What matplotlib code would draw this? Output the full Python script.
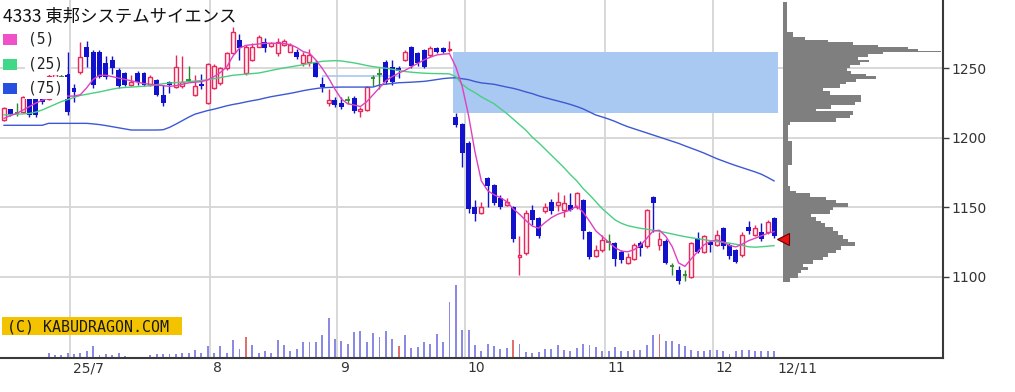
import matplotlib
matplotlib.use("Agg")
import matplotlib.pyplot as plt
import matplotlib.transforms as mtransforms
from matplotlib.patches import Rectangle
import numpy as np

# ---------------- data ----------------
title = "4333 東邦システムサイエンス"
ma_labels = ["(5)", "(25)", "(75)"]
watermark = "(C) KABUDRAGON.COM"

opens = [1212.8, 1220.5, 1218, 1218.8, 1228.5, 1229, 1228.5, 1228, 1236, 1244,
         1246, 1236, 1247.6, 1265.5, 1262, 1262, 1254, 1256, 1249, 1246.6,
         1238, 1246.6, 1246.6, 1238, 1241.6, 1230.8, 1240, 1236.8, 1237, 1241.5,
         1231, 1239, 1225, 1236, 1239.5, 1250, 1261, 1270, 1246.4, 1256,
         1265.5, 1269, 1266, 1260.8, 1266.8, 1262, 1262, 1253.6, 1254.7, 1253.6,
         1239, 1225, 1227, 1225, 1227, 1228.6, 1219, 1220, 1243, 1246,
         1254.5, 1251, 1250, 1256, 1265, 1261, 1263, 1259.6, 1264.6, 1264.6,
         1263, 1215, 1210, 1196, 1150, 1146, 1171, 1166, 1157, 1152,
         1150, 1114, 1117, 1148, 1142, 1147, 1154, 1152, 1148, 1152,
         1150, 1155, 1132, 1115, 1119, 1125, 1124, 1118, 1110, 1113,
         1124, 1122, 1157.6, 1123, 1126, 1107.5, 1105, 1101, 1100, 1128,
         1118, 1125, 1123, 1135, 1123, 1119, 1116, 1136, 1130, 1132,
         1132.5, 1142]
closes = [1221.3, 1217, 1218, 1229, 1216.4, 1216.4, 1226, 1244.5, 1246, 1244,
          1218.8, 1233, 1258.4, 1258.4, 1238, 1244, 1244, 1250, 1237, 1238,
          1240, 1240, 1238, 1244, 1230.8, 1225, 1238, 1251, 1240, 1241.5,
          1237, 1237, 1253, 1252, 1250, 1261, 1276.3, 1264.6, 1265.5, 1265.5,
          1272.7, 1264.4, 1268, 1269, 1270, 1266.7, 1258.4, 1259.6, 1259.6, 1244,
          1236.8, 1227, 1223.6, 1222, 1227, 1219, 1221, 1236.8, 1243, 1246,
          1240, 1240, 1248, 1261.7, 1252, 1254, 1251, 1264.6, 1261.5, 1261.5,
          1264, 1209, 1189, 1149, 1145, 1150, 1165, 1153, 1150, 1154,
          1127, 1116, 1146, 1141, 1129, 1150, 1147, 1153.5, 1153, 1148,
          1160, 1133, 1114, 1119, 1126.5, 1125, 1113, 1112, 1114, 1123,
          1121, 1148, 1153, 1127, 1110, 1107.5, 1097, 1101, 1124, 1118,
          1129, 1123, 1130, 1122, 1115, 1111, 1130, 1133, 1135, 1127.5,
          1139.6, 1129]
highs = [1222, 1221, 1225, 1230, 1230, 1230, 1229, 1246, 1250, 1252,
         1262, 1239, 1269, 1270, 1263, 1263, 1259, 1259, 1250, 1247,
         1245, 1248, 1247, 1245, 1242, 1238, 1241, 1259.6, 1259, 1252,
         1245, 1246, 1254, 1253, 1251, 1262, 1280, 1275, 1267, 1268,
         1274, 1272, 1269, 1272, 1271, 1268, 1264, 1262, 1264, 1256,
         1244, 1235, 1229, 1229, 1230, 1230, 1222, 1237, 1245, 1250,
         1256, 1256, 1252, 1263, 1266, 1262, 1264, 1266, 1265, 1265,
         1270, 1217.5, 1211, 1198, 1155, 1154, 1172, 1167, 1159, 1157,
         1151, 1129, 1148, 1152, 1143, 1153, 1156, 1161, 1159, 1160,
         1161, 1156, 1133, 1123, 1130, 1131, 1125, 1119, 1117, 1124,
         1126, 1149, 1158, 1132, 1127, 1110, 1108, 1105, 1125, 1132,
         1130, 1126, 1134, 1136, 1124, 1120, 1132, 1140, 1137, 1139,
         1141, 1143]
lows = [1212, 1216, 1216, 1218, 1215, 1215, 1224, 1227, 1234, 1238,
        1216.4, 1226, 1246, 1251, 1236, 1243, 1242, 1246, 1236, 1237,
        1237, 1238, 1237, 1237, 1230, 1223, 1232, 1236, 1236, 1240,
        1230, 1235, 1224, 1235, 1238, 1249, 1260, 1256, 1245, 1255,
        1265, 1262, 1265, 1259, 1266, 1262, 1257, 1252, 1252, 1244,
        1233, 1223, 1222, 1221, 1224, 1218, 1215, 1219, 1237, 1235,
        1239, 1238, 1243, 1255, 1250, 1252, 1250, 1258, 1261, 1261,
        1262, 1208, 1179, 1146, 1140, 1145, 1150, 1152, 1149, 1151,
        1125, 1101, 1116, 1137, 1128, 1146, 1145, 1147, 1143, 1147,
        1149, 1127, 1113, 1114, 1118, 1119, 1108, 1110, 1109, 1112,
        1115, 1121, 1132.5, 1119, 1109, 1101, 1095, 1097, 1099, 1117,
        1117, 1118, 1122, 1120, 1113, 1110, 1114, 1131, 1129, 1126,
        1131, 1128]
volume = [1.5, 1.5, 1.5, 1.5, 1.5, 1.5, 1.5, 5, 2.7, 2.7,
          5, 3.7, 5, 6.7, 11.7, 2.7, 3.7, 2.7, 5, 1.7,
          1, 1, 1, 2.7, 3.7, 3.7, 3.7, 3.7, 5, 5,
          8.3, 5, 11.7, 5, 11.7, 5, 17.7, 9.3, 21, 12.7,
          5, 6.7, 5, 17.7, 12.7, 6.7, 9.3, 16, 16, 16,
          22.7, 40, 19.3, 16.7, 14.3, 26, 27, 16, 25.3, 21,
          27, 19.3, 11.7, 22.7, 10, 11, 16, 14.3, 24.3, 16,
          56, 73.3, 28.3, 28.3, 12.7, 6.7, 14.3, 11.7, 9.3, 10,
          17.7, 14.3, 6, 5, 6, 9.3, 9.3, 12.7, 7.7, 6.7,
          10, 14.3, 13.3, 11, 6.7, 6.7, 11, 6.7, 6.7, 7.7,
          8.3, 12.7, 22.7, 24.3, 16.7, 16.7, 14.3, 11.7, 8.3, 6.7,
          6.7, 8.3, 7.7, 6.7, 4.3, 6.7, 8.3, 8.3, 6.7, 6.7,
          6.7, 6.7]
vol_marked = [38, 62, 80, 103]

ma5 = [1214, 1216, 1217.5, 1220, 1222.5, 1225, 1227, 1228.5, 1229.5, 1230,
       1230, 1230, 1231, 1236, 1242, 1245, 1245, 1244, 1243, 1242,
       1241, 1240, 1239, 1238.5, 1238, 1237.5, 1237, 1237.5, 1238.5, 1239.5,
       1240, 1240.4, 1241.6, 1244, 1247, 1251, 1259, 1264.5, 1266.5, 1267,
       1267.5, 1268, 1268, 1268, 1267.8, 1267, 1265, 1262, 1260.8, 1256,
       1250, 1243, 1235, 1228, 1224.5, 1223.6, 1222.5, 1226, 1231, 1236,
       1241, 1244, 1246.5, 1248.5, 1251, 1253.5, 1256, 1258, 1259.6, 1260.2,
       1260.5, 1251, 1237, 1216, 1190, 1169, 1162, 1159, 1157, 1154,
       1149, 1145, 1140.5, 1136.5, 1135, 1139, 1142.5, 1145, 1146.5, 1148,
       1151, 1146.5, 1140, 1133, 1129, 1125, 1121, 1118.5, 1118, 1119.5,
       1122.5, 1127.7, 1133, 1133.5, 1129, 1121.7, 1110, 1107.5, 1113, 1118,
       1123, 1125.5, 1126.5, 1125, 1122.5, 1121.5, 1123.5, 1126, 1127.7, 1129.5,
       1131.3, 1132.5]
ma25 = [1216.5, 1216.7, 1217, 1217.2, 1217.5, 1218.5, 1220, 1222, 1224, 1226,
        1227.5, 1229, 1230.5, 1231.3, 1232.2, 1233, 1234, 1235, 1235.8, 1236.2,
        1236.5, 1236.8, 1237.1, 1237.5, 1238.2, 1238.9, 1239.4, 1239.7, 1240, 1240.4,
        1240.8, 1241.2, 1241.8, 1242.5, 1243.3, 1244.2, 1245, 1245.4, 1245.8, 1246.2,
        1246.6, 1247.5, 1248.5, 1249.4, 1250.3, 1251, 1251.8, 1252.6, 1253.5, 1254.3,
        1255, 1255.3, 1255.5, 1255.3, 1254.6, 1253.9, 1253, 1252, 1251.2, 1250.6,
        1250.1, 1249.3, 1248.5, 1247.7, 1247.2, 1246.8, 1246.5, 1246.3, 1246.2, 1246.1,
        1246, 1244, 1238.5, 1235, 1232.5, 1229.5, 1227, 1224.5, 1221, 1217.5,
        1213.5, 1209.5, 1205.5, 1200.5, 1196.5, 1192, 1187.5, 1183, 1178.5, 1173.5,
        1169, 1163.5, 1159, 1154, 1149, 1145, 1141, 1138.5, 1136.8, 1135.8,
        1134.9, 1134.2, 1133.5, 1132.7, 1131.8, 1130.8, 1129.8, 1128.9, 1128.1, 1127.4,
        1126.7, 1126, 1125.4, 1124.8, 1124.2, 1123.4, 1122.6, 1121.6, 1121.3, 1121.6,
        1122, 1122.4]
ma75 = [1209, 1209, 1209, 1209, 1209, 1209, 1209, 1210.4, 1210.4, 1210.4,
        1210.4, 1210.4, 1210.4, 1210.4, 1210, 1209.5, 1208.8, 1208, 1207.2, 1206.4,
        1205.6, 1205.6, 1205.6, 1205.6, 1205.6, 1205.8, 1207.5, 1209.8, 1212.3, 1214.8,
        1217, 1218.3, 1219.6, 1220.6, 1221.8, 1223, 1224, 1224.8, 1225.8, 1226.7,
        1227.5, 1228.6, 1229.6, 1230.4, 1231.2, 1232, 1232.9, 1233.9, 1234.7, 1235.4,
        1236, 1236.2, 1236.4, 1236.5, 1236.5, 1236.5, 1236.5, 1236.5, 1236.5, 1238,
        1238.6, 1239.1, 1239.6, 1239.8, 1240, 1240.3, 1240.6, 1241.2, 1241.9, 1242.6,
        1243, 1243.2, 1242.5, 1241.8, 1240.5, 1239.5, 1239, 1238.5, 1237.5, 1236.5,
        1235.6, 1234.4, 1233, 1231.8, 1230.2, 1228.9, 1227.7, 1226.5, 1225.3, 1224,
        1222.5, 1220.8, 1218.6, 1216.4, 1215, 1213.5, 1211.8, 1209.8, 1208, 1206.5,
        1205, 1203.5, 1202, 1200.5, 1199, 1197.5, 1196, 1194.2, 1192.5, 1190.8,
        1189, 1187, 1185, 1183.3, 1181.6, 1180, 1178.5, 1177, 1175.5, 1173.8,
        1171.5, 1169]

month_start_idx = [11, 33, 53, 73, 95, 112]
month_labels = ["25/7", "8", "9", "10", "11", "12"]
last_label = "12/11"
price_ticks = [1100, 1150, 1200, 1250]

support_level = 1244.5
support_from, support_to = 50, 62

# volume-by-price profile (bin edges from high to low, volume per bin)
vp_edges = [1298, 1276, 1272.7, 1270.4, 1269, 1266.8, 1265.5, 1263.7, 1262.6, 1261.5,
            1260, 1258, 1256, 1254.5, 1252.5, 1250.5, 1248, 1246, 1244.5, 1242.5,
            1240.5, 1238.5, 1236, 1233.5, 1231, 1228.5, 1226, 1223.5, 1221, 1219,
            1216.5, 1214, 1211.5, 1209.5, 1197.5, 1180.5, 1165, 1162, 1160, 1157.5,
            1155, 1153, 1150.5, 1148, 1145.5, 1143, 1140.5, 1138.5, 1136, 1133,
            1130, 1127.5, 1125, 1122, 1119.5, 1117, 1114.5, 1112, 1109.5, 1107,
            1105, 1102.5, 1099, 1096]
vp_vol = [4, 10, 22, 45, 70, 95, 125, 135, 158, 100,
          85, 75, 86, 77, 67, 64, 68, 83, 93, 73,
          63, 57, 40, 47, 78, 78, 72, 48, 33, 70,
          67, 53, 7, 5, 9, 5, 7, 13, 27, 43,
          53, 65, 50, 47, 28, 33, 38, 42, 50, 55,
          60, 65, 72, 58, 53, 45, 40, 30, 20, 25,
          18, 15, 7]
last_price = 1127

# ---------------- layout / styles ----------------
W, H, DPI = 1015, 392, 100
plot_right = 943
plot_bottom = 358
step_px = 6.364
first_px = 4.0

UP_EDGE = "#e8285a"
UP_FACE = "#fff0f4"
DOWN = "#1212cc"
DOJI = "#2a8a2a"
C_MA5 = "#e040c0"
C_MA25 = "#48d080"
C_MA75 = "#3c58d4"
GRID = "#d6d6d6"
AXC = "#3a3a3a"

N = len(closes)
idx = np.arange(N)
o = np.array(opens); c = np.array(closes); h = np.array(highs); l = np.array(lows)

x_lo = (0 - first_px) / step_px
x_hi = (plot_right - first_px) / step_px
y_hi = 1250 + 68.3 / 1.39
y_lo = 1250 - (plot_bottom - 68.3) / 1.39

fig = plt.figure(figsize=(W / DPI, H / DPI), dpi=DPI)
fig.patch.set_facecolor("white")
B = 1 - plot_bottom / H
rect = [0, B, plot_right / W, 1 - B]

ax_vol = fig.add_axes(rect, zorder=1)
ax = fig.add_axes(rect, zorder=2)
ax_vp = fig.add_axes([783 / W, B, (plot_right - 783) / W, 1 - B], zorder=3)

# volume pane
ax_vol.set_xlim(x_lo, x_hi)
ax_vol.set_ylim(0, plot_bottom)
vcol = ["#e07070" if i in vol_marked else "#8a8ae4" for i in idx]
ax_vol.bar(idx, volume, width=0.3, color=vcol, linewidth=0)
ax_vol.axis("off")

# price pane
ax.set_facecolor("none")
ax.set_xlim(x_lo, x_hi)
ax.set_ylim(y_lo, y_hi)
for s in ["top", "left"]:
    ax.spines[s].set_visible(False)
for s in ["right", "bottom"]:
    ax.spines[s].set_color(AXC)
    ax.spines[s].set_linewidth(1.5)
ax.yaxis.tick_right()
ax.set_yticks(price_ticks)
ax.set_yticklabels([str(t) for t in price_ticks])
ax.tick_params(axis="y", direction="out", length=4, width=1, color=AXC,
               labelsize=10, pad=2, labelcolor="#333333")
ax.set_xticks([])

for t in price_ticks:
    ax.axhline(t, color=GRID, lw=1.3, zorder=0.5)
grid_x = [m - 0.6 for m in month_start_idx]
for gx in grid_x:
    ax.axvline(gx, color=GRID, lw=1.3, zorder=0.5)

trans = mtransforms.blended_transform_factory(ax.transData, ax.transAxes)
for gx, lab in zip(grid_x, month_labels):
    ax.text(gx + 0.45, -10.5 / plot_bottom, lab, transform=trans, ha="left",
            va="center", fontsize=10, color="#333333", clip_on=False)
ax.text(N - 1 + 0.5, -10.5 / plot_bottom, last_label, transform=trans, ha="left",
        va="center", fontsize=10, color="#333333", clip_on=False)

# unfilled gap (window)
gaps = l[:-1] - h[1:]
gi = int(np.argmax(gaps)) + 1
ax.add_patch(Rectangle((gi - 0.45, h[gi]), (N - 1 + 0.6) - (gi - 0.45), l[gi - 1] - h[gi],
                       facecolor="#a9c8f2", edgecolor="none", zorder=1))
ax.hlines(support_level, support_from, support_to, color="#a9c8f2", lw=1.2, zorder=1.2)

# candles
up = c > o
dn = c < o
dj = c == o
wick_col = np.where(up, UP_EDGE, np.where(dn, DOWN, DOJI))
ax.vlines(idx, l, h, colors=wick_col, lw=1.0, zorder=2)
ax.bar(idx[up], (c - o)[up], bottom=o[up], width=0.62, facecolor=UP_FACE,
       edgecolor=UP_EDGE, linewidth=1.0, zorder=3)
ax.bar(idx[dn], (o - c)[dn], bottom=c[dn], width=0.78, color=DOWN, linewidth=0, zorder=3)
ax.hlines(c[dj], idx[dj] - 0.35, idx[dj] + 0.35, colors=DOJI, lw=1.3, zorder=3)

# moving averages
ax.plot(idx, ma75, color=C_MA75, lw=1.0, zorder=4)
ax.plot(idx, ma25, color=C_MA25, lw=1.0, zorder=4)
ax.plot(idx, ma5, color=C_MA5, lw=1.0, zorder=4)

# volume profile
vp_e = np.array(vp_edges)
ax_vp.barh(vp_e[1:], vp_vol, height=vp_e[:-1] - vp_e[1:], align="edge",
           color="#7f7f7f", linewidth=0)
ax_vp.set_xlim(0, plot_right - 783)
ax_vp.set_ylim(y_lo, y_hi)
ax_vp.set_facecolor("none")
ax_vp.axis("off")
ax_vp.plot([0], [last_price], marker="<", ms=8, mfc="#e81414", mec="#6a0000",
           mew=0.8, clip_on=False, zorder=6)

# title & legend
cjk = ["Noto Sans CJK JP", "DejaVu Sans"]
fig.text(3 / W, 1 - 16.5 / H, title, fontsize=12.5, family=cjk, va="center",
         ha="left", color="#111111", zorder=20)
leg_y = [39, 64, 88]
leg_c = ["#f050c8", "#40d888", "#2850e0"]
for yy, cc, lab in zip(leg_y, leg_c, ma_labels):
    fig.patches.append(Rectangle((3 / W, 1 - (yy + 6) / H), 14 / W, 11 / H,
                                 transform=fig.transFigure, facecolor=cc,
                                 edgecolor="none", zorder=20))
    fig.text(28 / W, 1 - yy / H, lab, fontsize=10.5, family="DejaVu Sans Mono",
             va="center", ha="left", color="#222222", zorder=20,
             bbox=dict(facecolor="white", edgecolor="none", pad=2.5))

# watermark
fig.patches.append(Rectangle((2 / W, 1 - 335 / H), 180 / W, 18 / H,
                             transform=fig.transFigure, facecolor="#f3c300",
                             edgecolor="none", zorder=20))
fig.text(7 / W, 1 - 326.5 / H, watermark, fontsize=10.8, family="DejaVu Sans Mono",
         va="center", ha="left", color="#1a1a1a", zorder=21)

fig.savefig("out.png", dpi=DPI, facecolor="white")
